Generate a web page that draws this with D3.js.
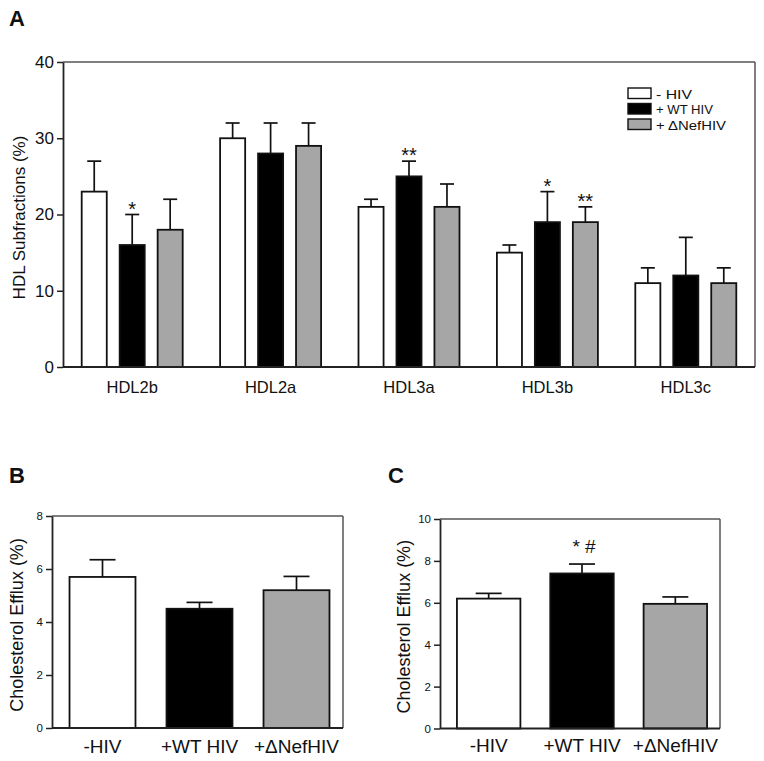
<!DOCTYPE html>
<html><head><meta charset="utf-8">
<script src="https://cdn.jsdelivr.net/npm/d3@7"></script>
<style>
body{margin:0;background:#fff;}
svg{display:block;font-family:Arial,"Liberation Sans",Helvetica,sans-serif;}
</style></head>
<body>
<svg id="chart" width="764" height="761"></svg>
<script>
// ---------- DATA ----------
const seriesNames = ["- HIV", "+ WT HIV", "+ \u0394NefHIV"];
const seriesColors = ["#ffffff", "#000000", "#a6a6a6"];

// Panel A
const categoriesA = ["HDL2b", "HDL2a", "HDL3a", "HDL3b", "HDL3c"];
const noHIV_A   = [23, 30, 21, 15, 11];
const noHIV_Aerr = [4, 2, 1, 1, 2];
const wtHIV_A   = [16, 28, 25, 19, 12];
const wtHIV_Aerr = [4, 4, 2, 4, 5];
const nefHIV_A  = [18, 29, 21, 19, 11];
const nefHIV_Aerr = [4, 3, 3, 2, 2];
const sigA = [["", "*", ""], ["", "", ""], ["", "**", ""], ["", "*", "**"], ["", "", ""]];
const ticksA = [0, 10, 20, 30, 40];

// Panel B
const categoriesBC = ["-HIV", "+WT HIV", "+\u0394NefHIV"];
const valuesB = [5.7, 4.5, 5.2];
const errB = [0.65, 0.24, 0.52];
const ticksB = [0, 2, 4, 6, 8];

// Panel C
const valuesC = [6.2, 7.4, 5.95];
const errC = [0.25, 0.45, 0.33];
const sigC = ["", "* #", ""];
const ticksC = [0, 2, 4, 6, 8, 10];

// ---------- DRAW ----------
const svg = d3.select("#chart");
const axisColor = "#222";
const frameColor = "#555";

function frame(g, x0, x1, y0, y1) {
  g.append("line").attr("x1", x0).attr("x2", x1).attr("y1", y0).attr("y2", y0)
    .attr("stroke", frameColor).attr("stroke-width", 1.5);
  g.append("line").attr("x1", x1).attr("x2", x1).attr("y1", y0).attr("y2", y1)
    .attr("stroke", frameColor).attr("stroke-width", 1.5);
}

function yAxis(g, y, x0, ticks, fontSize) {
  const ax = g.append("g").attr("transform", `translate(${x0},0)`)
    .call(d3.axisLeft(y).tickValues(ticks).tickSize(6).tickSizeOuter(0).tickPadding(3));
  ax.attr("font-size", fontSize).attr("font-family", "Arial, 'Liberation Sans', sans-serif");
  ax.select(".domain").attr("stroke", axisColor).attr("stroke-width", 1.8);
  ax.selectAll(".tick line").attr("stroke", axisColor).attr("stroke-width", 1.5);
  ax.selectAll(".tick text").attr("fill", "#111").attr("font-size", fontSize);
}

function xBase(g, x0, x1, yb) {
  g.append("line").attr("x1", x0).attr("x2", x1).attr("y1", yb).attr("y2", yb)
    .attr("stroke", axisColor).attr("stroke-width", 1.8);
}

function bar(g, x, w, y, v, e, fill, capW) {
  const cx = x + w / 2;
  g.append("line").attr("x1", cx).attr("x2", cx).attr("y1", y(v)).attr("y2", y(v + e))
    .attr("stroke", "#111").attr("stroke-width", 1.7);
  g.append("line").attr("x1", cx - capW / 2).attr("x2", cx + capW / 2)
    .attr("y1", y(v + e)).attr("y2", y(v + e))
    .attr("stroke", "#111").attr("stroke-width", 1.7);
  g.append("rect").attr("x", x).attr("y", y(v)).attr("width", w)
    .attr("height", y(0) - y(v)).attr("fill", fill)
    .attr("stroke", "#111").attr("stroke-width", 1.8);
}

// ----- Panel A -----
(function () {
  const g = svg.append("g");
  const L = 63, R = 755, T = 62, B = 367;
  const y = d3.scaleLinear().domain([0, 40]).range([B, T]);
  const x0 = d3.scaleBand().domain(categoriesA).range([L, R]).padding(0);
  const series = [noHIV_A, wtHIV_A, nefHIV_A];
  const errs = [noHIV_Aerr, wtHIV_Aerr, nefHIV_Aerr];
  frame(g, L, R, T, B);
  categoriesA.forEach((c, i) => {
    const cx = x0(c) + x0.bandwidth() / 2;
    const x1 = d3.scaleBand().domain(seriesNames).range([cx - 50.5, cx + 50.5])
      .paddingInner(0.34).paddingOuter(0);
    seriesNames.forEach((s, j) => {
      bar(g, x1(s), x1.bandwidth(), y, series[j][i], errs[j][i], seriesColors[j], 14);
      if (sigA[i][j]) {
        g.append("text").attr("x", x1(s) + x1.bandwidth() / 2)
          .attr("y", y(series[j][i] + errs[j][i]) + 1)
          .attr("text-anchor", "middle").attr("font-size", 20).attr("fill", "#111")
          .text(sigA[i][j]);
      }
    });
    g.append("text").attr("x", cx).attr("y", 393).attr("text-anchor", "middle")
      .attr("font-size", 16.5).attr("fill", "#111").text(c);
  });
  xBase(g, L, R, B);
  yAxis(g, y, L, ticksA, 17);
  g.append("text").attr("transform", `translate(25,${(T + B) / 2 + 3}) rotate(-90)`)
    .attr("text-anchor", "middle").attr("font-size", 17).attr("fill", "#111")
    .text("HDL Subfractions (%)");
  g.append("text").attr("x", 9).attr("y", 26).attr("font-size", 22).attr("font-weight", "bold")
    .attr("fill", "#111").text("A");
  // legend
  const lg = g.append("g");
  const legW = [36, 57, 70];
  seriesNames.forEach((s, j) => {
    const yy = 88 + j * 15.5;
    lg.append("rect").attr("x", 628).attr("y", yy).attr("width", 23).attr("height", 10.5)
      .attr("fill", seriesColors[j]).attr("stroke", "#111").attr("stroke-width", 1.4);
    lg.append("text").attr("x", 656).attr("y", yy + 10.5).attr("font-size", 13.5)
      .attr("textLength", legW[j]).attr("lengthAdjust", "spacingAndGlyphs")
      .attr("fill", "#111").text(s);
  });
})();

// ----- Panels B & C -----
function smallPanel(opt) {
  const g = svg.append("g");
  const { L, R, T, B } = opt;
  const y = d3.scaleLinear().domain([0, opt.max]).range([B, T]);
  const x = d3.scaleBand().domain(categoriesBC).range([L + 2, R + 2]).paddingInner(0.32).paddingOuter(0.16);
  frame(g, L, R, T, B);
  categoriesBC.forEach((c, i) => {
    bar(g, x(c), x.bandwidth(), y, opt.values[i], opt.errs[i], seriesColors[i], 26);
    g.append("text").attr("x", x(c) + x.bandwidth() / 2).attr("y", opt.labelY)
      .attr("text-anchor", "middle").attr("font-size", 19).attr("fill", "#111").text(c);
    if (opt.sig && opt.sig[i]) {
      g.append("text").attr("x", x(c) + x.bandwidth() / 2 + 2)
        .attr("y", y(opt.values[i] + opt.errs[i]) - 11)
        .attr("text-anchor", "middle").attr("font-size", 19).attr("fill", "#111")
        .text(opt.sig[i]);
    }
  });
  xBase(g, L, R, B);
  yAxis(g, y, L, opt.ticks, 11.5);
  g.append("text").attr("transform", `translate(${opt.ylabX},${(T + B) / 2 + 3}) rotate(-90)`)
    .attr("text-anchor", "middle").attr("font-size", 18).attr("fill", "#111")
    .text("Cholesterol Efflux (%)");
  g.append("text").attr("x", opt.letterX).attr("y", 483).attr("font-size", 22)
    .attr("font-weight", "bold").attr("fill", "#111").text(opt.letter);
}

smallPanel({ L: 52, R: 343, T: 516, B: 728, max: 8, values: valuesB, errs: errB,
  ticks: ticksB, labelY: 753, ylabX: 23, letter: "B", letterX: 9 });
smallPanel({ L: 440, R: 720, T: 519, B: 728.5, max: 10, values: valuesC, errs: errC,
  ticks: ticksC, labelY: 752, ylabX: 410, letter: "C", letterX: 388, sig: sigC });
</script>
</body></html>
